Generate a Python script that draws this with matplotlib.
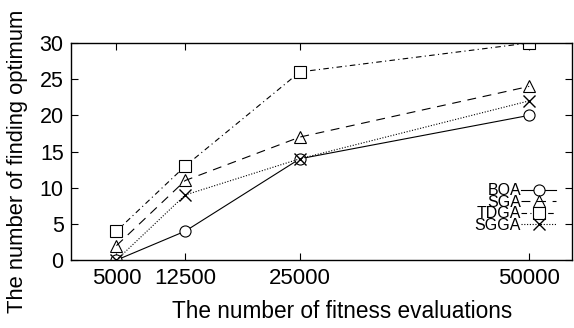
import matplotlib
matplotlib.use("Agg")
import matplotlib.pyplot as plt

evals = [5000, 12500, 25000, 50000]
boa = [0, 4, 14, 20]
sga = [2, 11, 17, 24]
tdga = [4, 13, 26, 30]
sgga = [0, 9, 14, 22]
yticks = [0, 5, 10, 15, 20, 25, 30]

plt.rcParams['font.family'] = ['Liberation Sans', 'DejaVu Sans']

fig = plt.figure(figsize=(5.74, 3.28), dpi=100)
ax = fig.add_axes([0.123, 0.207, 0.874, 0.662])

lw = 0.8
ms = 8
ax.plot(evals, boa, color='black', lw=lw, ls='-', marker='o', ms=ms,
        mfc='white', mec='black', mew=0.8, label='BOA')
ax.plot(evals, sga, color='black', lw=lw, ls=(0, (8, 6)), marker='^', ms=ms,
        mfc='none', mec='black', mew=0.8, label='SGA')
ax.plot(evals, tdga, color='black', lw=lw, ls=(0, (5, 3, 1, 3)), marker='s', ms=ms,
        mfc='white', mec='black', mew=0.8, label='TDGA')
ax.plot(evals, sgga, color='black', lw=lw, ls=(0, (1, 1.5)), marker='x', ms=ms,
        mfc='none', mec='black', mew=1.0, label='SGGA')

ax.set_xlim(0, 54700)
ax.set_ylim(0, 30)
ax.set_xticks(evals)
ax.set_xticklabels([str(v) for v in evals])
ax.set_yticks(yticks)
ax.tick_params(direction='in', length=5, width=0.8, top=True, right=True,
               colors='black')
ax.tick_params(axis='x', labelsize=16, pad=6)
ax.tick_params(axis='y', labelsize=15.5, pad=5)
for s in ax.spines.values():
    s.set_linewidth(1.0)

ax.set_xlabel('The number of fitness evaluations', fontsize=16.3, labelpad=9)
ax.xaxis.set_label_coords(0.542, -0.182)
ax.xaxis.label.set_verticalalignment('top')
ax.set_ylabel('The number of finding optimum', fontsize=15.8, labelpad=2)
ax.yaxis.set_label_coords(-0.085, 0.454)

leg = ax.legend(loc='lower right', bbox_to_anchor=(0.99, 0.075), frameon=False,
                markerfirst=False, fontsize=11.5, handlelength=2.2,
                handletextpad=0.0, labelspacing=-0.22, borderpad=0.2)

fig.savefig('out.png', dpi=100)
